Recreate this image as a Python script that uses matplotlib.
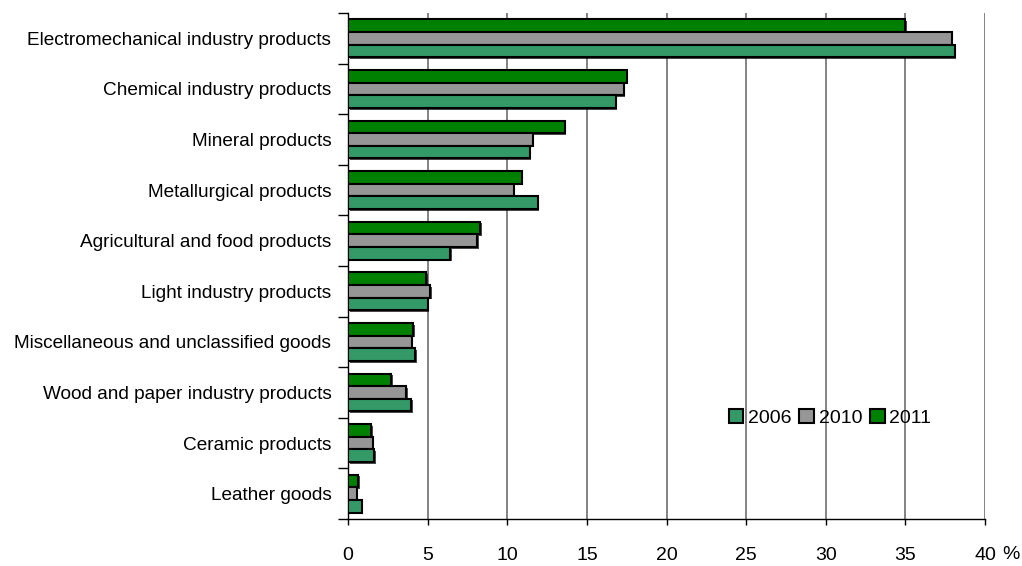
import numpy as np
import matplotlib.pyplot as plt
import matplotlib.patheffects as pe
from matplotlib import font_manager
from matplotlib.patches import Patch

categories = [
    "Electromechanical industry products",
    "Chemical industry products",
    "Mineral products",
    "Metallurgical products",
    "Agricultural and food products",
    "Light industry products",
    "Miscellaneous and unclassified goods",
    "Wood and paper industry products",
    "Ceramic products",
    "Leather goods",
]
share_2011 = [35.0, 17.5, 13.6, 10.9, 8.3, 4.9, 4.1, 2.7, 1.45, 0.65]
share_2010 = [37.9, 17.3, 11.6, 10.4, 8.1, 5.15, 4.0, 3.65, 1.55, 0.55]
share_2006 = [38.1, 16.8, 11.4, 11.9, 6.4, 5.0, 4.2, 3.95, 1.65, 0.85]
years = ["2006", "2010", "2011"]
x_ticks = [0, 5, 10, 15, 20, 25, 30, 35, 40]

colors = {"2006": "#339966", "2010": "#969696", "2011": "#008000"}

plt.rcParams["font.family"] = ["Liberation Sans", "DejaVu Sans"]

# numbers use a narrow face when one is installed
try:
    font_manager.findfont("Liberation Sans Narrow", fallback_to_default=False)
    num_family = ["Liberation Sans Narrow", "Liberation Sans"]
    num_size = 16.5
except Exception:
    num_family = ["Liberation Sans", "DejaVu Sans"]
    num_size = 14

fig = plt.figure(figsize=(10.22, 5.66), dpi=100)
ax = fig.add_axes([348 / 1022, 1 - 519 / 566, 637 / 1022, 506 / 566])

centers = np.arange(len(categories)) + 0.5
h = 0.25
shadow = [pe.SimplePatchShadow(offset=(1.2, -1.2), shadow_rgbFace="black", alpha=0.7), pe.Normal()]

series = [("2011", share_2011, -h), ("2010", share_2010, 0.0), ("2006", share_2006, h)]
for year, vals, off in series:
    bars = ax.barh(centers + off, vals, height=h, color=colors[year],
                   edgecolor="black", linewidth=1.5, zorder=3)
    for b in bars:
        b.set_path_effects(shadow)

ax.set_xlim(0, 40)
ax.set_ylim(len(categories), 0)

ax.set_xticks(x_ticks)
ax.set_xticklabels([str(t) for t in x_ticks], fontsize=num_size, family=num_family)
ax.tick_params(axis="x", length=4.5, width=1, color="black", pad=16)
ax.text(41.1, -0.07, "%", transform=ax.get_xaxis_transform(), fontsize=num_size,
        ha="left", va="center", family=num_family)
for t in x_ticks[1:]:
    ax.axvline(t, color="#6e6e6e", linewidth=1.2, zorder=1)

ax.set_yticks(centers)
ax.set_yticklabels(categories, fontsize=13.7)
ax.set_yticks(np.arange(len(categories) + 1), minor=True)
ax.tick_params(axis="y", which="major", length=0, pad=12)
ax.tick_params(axis="y", which="minor", length=7, width=1, color="black")

for side in ["top", "right"]:
    ax.spines[side].set_visible(False)
ax.spines["left"].set_linewidth(1)
ax.spines["bottom"].set_linewidth(1)
ax.spines["bottom"].set_bounds(0, 40)

handles = [Patch(facecolor=colors[y], edgecolor="black", linewidth=1.5) for y in years]
leg = ax.legend(handles, years, loc="center left", bbox_to_anchor=(0.576, 0.2), ncol=3,
                frameon=False, fontsize=num_size, handlelength=0.75, handleheight=0.75,
                handletextpad=0.25, columnspacing=0.4, borderpad=0.2)
for txt in leg.get_texts():
    txt.set_family(num_family)

fig.savefig("out.png", dpi=100)
